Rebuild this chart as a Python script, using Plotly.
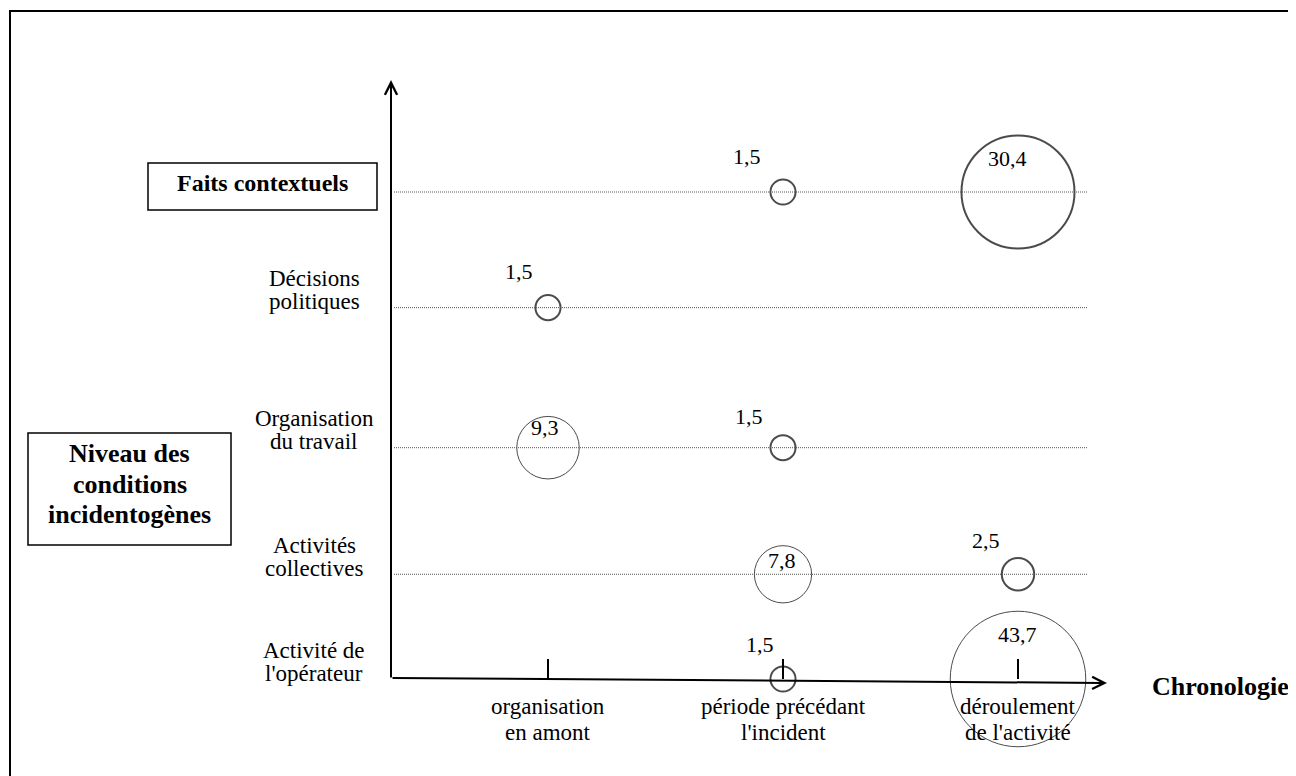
import plotly.graph_objects as go

W, H = 1296, 776

# ---------------- data ----------------
periods = ["organisation<br>en amont", "période précédant<br>l'incident", "déroulement<br>de l'activité"]
levels = ["Activité de<br>l'opérateur", "Activités<br>collectives", "Organisation<br>du travail",
          "Décisions<br>politiques", "Faits contextuels"]
level_title = "Niveau des<br>conditions<br>incidentogènes"
time_title = "Chronologie"

bubble_period = [1, 2, 0, 0, 1, 1, 2, 1, 2]
bubble_level = [4, 4, 3, 2, 2, 1, 1, 0, 0]
bubble_value = [1.5, 30.4, 1.5, 9.3, 1.5, 7.8, 2.5, 1.5, 43.7]

# ---------------- layout / style ----------------
PAGE_OFF = 8                                        # browser body margin around the figure
LEVEL_POS = [0.0, 0.86, 1.90, 3.05, 4.0]           # row positions on the level axis
X_PX0, X_UNIT = 548, 235                            # screen pixel of period 0, pixels per period
Y_PX0, Y_UNIT = 679, 121.75                         # screen pixel of level 0, pixels per level unit
LABEL_SHIFT = [(-36, 36), (-11, 34), (-29, 36), (-3, 20), (-34, 31),
               (-1, 14), (-32, 34), (-23, 35), (-1, 45)]
RING_WIDTH = [2, 2, 2, 1, 2, 1, 2, 2, 1]
DIAM_PER_SQRT = 20.5
FONT = "Liberation Serif, Times New Roman, serif"
REG = 23
BLACK = "black"

x_range = [-(X_PX0 - PAGE_OFF) / X_UNIT, (W - (X_PX0 - PAGE_OFF)) / X_UNIT]
y_range = [-(H - (Y_PX0 - PAGE_OFF)) / Y_UNIT, (Y_PX0 - PAGE_OFF) / Y_UNIT]


def xp(px):
    return (px - PAGE_OFF) / W


def yp(py):
    return 1 - (py - PAGE_OFF) / H


def fmt(v):
    return f"{v:.1f}".replace(".", ",")


fig = go.Figure()

# bubbles
fig.add_trace(go.Scatter(
    x=bubble_period,
    y=[LEVEL_POS[l] for l in bubble_level],
    mode="markers",
    marker=dict(size=bubble_value, sizemode="area", sizeref=2 / DIAM_PER_SQRT ** 2,
                color="rgba(0,0,0,0)", line=dict(color=BLACK, width=RING_WIDTH)),
    hoverinfo="skip", cliponaxis=False, showlegend=False,
))

shapes = []
ann = []

# value labels
for (p, l, v), (dx, dy) in zip(zip(bubble_period, bubble_level, bubble_value), LABEL_SHIFT):
    ann.append(dict(x=p, y=LEVEL_POS[l], xref="x", yref="y", text=fmt(v), showarrow=False,
                    xshift=dx, yshift=dy, font=dict(family=FONT, size=22, color=BLACK)))

# outer frame
shapes.append(dict(type="rect", xref="paper", yref="paper", x0=xp(10), y0=yp(11), x1=xp(1320), y1=yp(800),
                   line=dict(color=BLACK, width=2)))

# dotted level lines
for i in range(1, len(levels)):
    shapes.append(dict(type="line", xref="paper", yref="y", x0=xp(394), x1=xp(1087),
                       y0=LEVEL_POS[i], y1=LEVEL_POS[i],
                       line=dict(color="#555555", width=1, dash="1px,1px")))

# level labels
for i, lab in enumerate(levels[:-1]):
    parts = lab.split("<br>")
    n = len(parts)
    for j, t in enumerate(parts):
        ann.append(dict(x=xp(314), y=LEVEL_POS[i], xref="paper", yref="y", text=t, showarrow=False,
                        xanchor="center", yanchor="middle", yshift=6 + (n - 1 - j) * 23,
                        font=dict(family=FONT, size=REG, color=BLACK)))

# top level: boxed bold label
shapes.append(dict(type="rect", xref="paper", yref="y", ysizemode="pixel", yanchor=LEVEL_POS[-1],
                   x0=xp(148), x1=xp(377), y0=-18, y1=29, line=dict(color=BLACK, width=1.5)))
ann.append(dict(x=xp(262.5), y=LEVEL_POS[-1], xref="paper", yref="y", text="<b>" + levels[-1] + "</b>",
                showarrow=False, xanchor="center", yanchor="middle", yshift=9,
                font=dict(family=FONT, size=24, color=BLACK)))

# level-axis title box
shapes.append(dict(type="rect", xref="paper", yref="paper", x0=xp(28), x1=xp(231), y0=yp(433), y1=yp(545),
                   line=dict(color=BLACK, width=1.5)))
for j, t in enumerate(level_title.split("<br>")):
    ann.append(dict(x=xp(129.5), y=yp(454 + 30 * j), xref="paper", yref="paper", text="<b>" + t + "</b>",
                    showarrow=False, xanchor="center", yanchor="middle",
                    font=dict(family=FONT, size=26, color=BLACK)))

# time-axis title
ann.append(dict(x=xp(1150), y=yp(686), xref="paper", yref="paper", text="<b>" + time_title + "</b>",
                showarrow=False, xanchor="left", yanchor="middle",
                font=dict(family=FONT, size=26, color=BLACK)))

# axis arrows
ann.append(dict(x=xp(391), y=yp(80), xref="paper", yref="paper", text="", showarrow=True,
                ax=0, ay=599, arrowhead=5, arrowwidth=2, arrowsize=1.2, arrowcolor=BLACK,
                standoff=0, startstandoff=0))
ann.append(dict(x=xp(1107), y=yp(683), xref="paper", yref="paper", text="", showarrow=True,
                ax=-716, ay=-5, arrowhead=5, arrowwidth=2, arrowsize=1.2, arrowcolor=BLACK,
                standoff=0, startstandoff=0))

# period ticks and labels
for p, lab in enumerate(periods):
    shapes.append(dict(type="line", xref="x", yref="y", ysizemode="pixel", yanchor=0,
                       x0=p, x1=p, y0=0, y1=20, line=dict(color=BLACK, width=2)))
    for j, t in enumerate(lab.split("<br>")):
        ann.append(dict(x=p, y=0, xref="x", yref="y", text=t, showarrow=False,
                        xanchor="center", yanchor="middle", yshift=-(27 + 26 * j),
                        font=dict(family=FONT, size=REG, color=BLACK)))

fig.update_layout(
    width=W, height=H,
    margin=dict(l=0, r=0, t=0, b=0),
    paper_bgcolor="white", plot_bgcolor="white",
    xaxis=dict(visible=False, range=x_range, fixedrange=True),
    yaxis=dict(visible=False, range=y_range, fixedrange=True),
    showlegend=False,
    shapes=shapes,
    annotations=ann,
    font=dict(family=FONT, color=BLACK),
)

fig.write_html("out.html", config={"displayModeBar": False})
